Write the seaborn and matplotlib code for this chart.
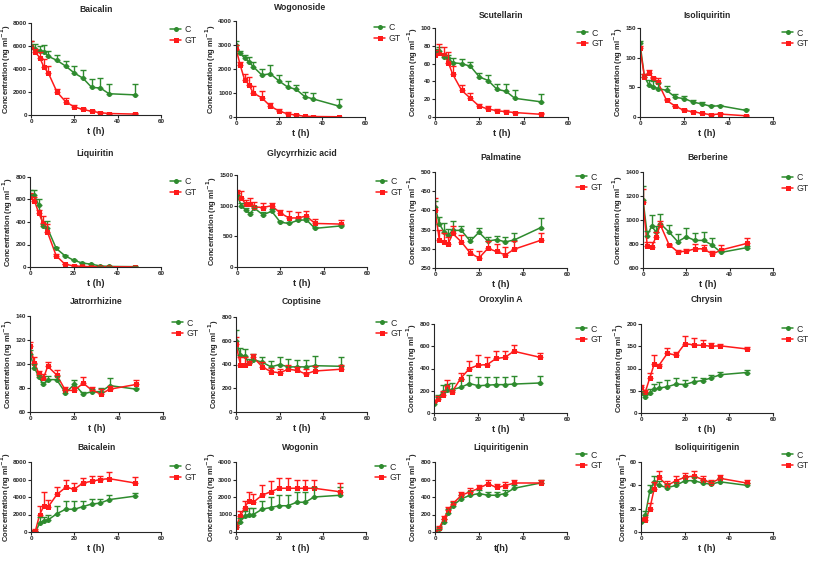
import numpy as np
import pandas as pd
import seaborn as sns
import matplotlib.pyplot as plt

t = [0, 2, 4, 6, 8, 12, 16, 20, 24, 28, 32, 36, 48]

names = ["Baicalin", "Wogonoside", "Scutellarin", "Isoliquiritin",
         "Liquiritin", "Glycyrrhizic acid", "Palmatine", "Berberine",
         "Jatrorrhizine", "Coptisine", "Oroxylin A", "Chrysin",
         "Baicalein", "Wogonin", "Liquiritigenin", "Isoliquiritigenin"]

# y-axis ranges (min, max, step)
yranges = [(0, 8000, 2000), (0, 4000, 1000), (0, 100, 20), (0, 150, 50),
           (0, 800, 200), (0, 1500, 500), (250, 500, 50), (600, 1400, 200),
           (60, 140, 20), (0, 800, 200), (0, 800, 200), (0, 200, 50),
           (0, 8000, 2000), (0, 4000, 1000), (0, 800, 200), (0, 60, 20)]

baicalin_c = [6000, 5700, 5600, 5500, 5100, 4750, 4250, 3650, 3200, 2400, 2350, 1850, 1750]
baicalin_c_err = [400, 500, 400, 600, 500, 450, 450, 650, 750, 700, 850, 850, 950]
baicalin_gt = [5950, 5450, 5000, 4150, 3650, 2000, 1150, 700, 480, 320, 200, 130, 80]
baicalin_gt_err = [450, 250, 500, 750, 650, 300, 350, 150, 170, 80, 50, 50, 70]

wogonoside_c = [3000, 2650, 2450, 2300, 2100, 1750, 1800, 1500, 1250, 1150, 850, 750, 450]
wogonoside_c_err = [150, 100, 150, 200, 200, 250, 350, 250, 250, 200, 200, 250, 300]
wogonoside_gt = [2850, 2150, 1550, 1350, 1000, 800, 450, 250, 130, 80, 30, 20, 10]
wogonoside_gt_err = [150, 150, 250, 300, 300, 300, 150, 100, 70, 40, 20, 10, 10]

scutellarin_c = [73, 74, 67, 66, 61, 60, 57, 45, 41, 31, 29, 21, 17]
scutellarin_c_err = [3, 5, 3, 4, 5, 5, 5, 5, 6, 6, 8, 9, 9]
scutellarin_gt = [70, 72, 70, 61, 48, 30, 21, 12, 9, 7, 6, 5, 3]
scutellarin_gt_err = [5, 10, 9, 12, 9, 6, 6, 3, 3, 2, 2, 1, 1]

isoliquiritin_c = [124, 68, 54, 51, 48, 45, 33, 31, 25, 22, 18, 19, 11]
isoliquiritin_c_err = [4, 5, 9, 9, 9, 7, 5, 4, 3, 3, 2, 2, 2]
isoliquiritin_gt = [116, 68, 74, 66, 59, 28, 18, 11, 9, 6, 4, 5, 2]
isoliquiritin_gt_err = [4, 4, 5, 2, 6, 3, 1, 2, 1, 1, 1, 1, 1]

liquiritin_c = [640, 640, 550, 360, 345, 165, 100, 60, 35, 25, 10, 5, 3]
liquiritin_c_err = [40, 40, 50, 20, 65, 10, 10, 5, 5, 5, 3, 2, 2]
liquiritin_gt = [620, 590, 480, 390, 310, 100, 25, 10, 5, 3, 2, 2, 1]
liquiritin_gt_err = [40, 30, 30, 60, 70, 20, 5, 5, 3, 2, 1, 1, 1]

glycyrrhizic_c = [1170, 1000, 930, 870, 960, 850, 910, 730, 710, 760, 770, 630, 670]
glycyrrhizic_c_err = [40, 40, 40, 30, 40, 40, 40, 20, 20, 30, 30, 20, 20]
glycyrrhizic_gt = [1210, 1130, 1020, 1020, 980, 970, 1000, 880, 800, 800, 830, 710, 700]
glycyrrhizic_gt_err = [50, 110, 80, 110, 80, 70, 50, 50, 120, 100, 90, 80, 70]

palmatine_c = [410, 365, 345, 335, 348, 348, 320, 343, 320, 324, 318, 323, 355]
palmatine_c_err = [15, 18, 23, 17, 24, 12, 12, 12, 10, 10, 12, 19, 25]
palmatine_gt = [402, 322, 317, 312, 340, 318, 289, 276, 301, 293, 284, 299, 322]
palmatine_gt_err = [30, 28, 25, 18, 20, 17, 11, 17, 19, 19, 20, 22, 18]

berberine_c = [1170, 870, 950, 900, 970, 900, 820, 860, 830, 830, 790, 730, 770]
berberine_c_err = [110, 40, 90, 50, 80, 60, 60, 70, 60, 70, 60, 10, 10]
berberine_gt = [1150, 780, 775, 860, 960, 795, 735, 740, 760, 760, 715, 750, 805]
berberine_gt_err = [110, 40, 45, 40, 30, 5, 15, 15, 40, 30, 25, 40, 45]

jatrorrhizine_c = [108, 97, 89, 83, 87, 87, 76, 83, 75, 77, 77, 82, 79]
jatrorrhizine_c_err = [4, 3, 2, 2, 3, 3, 2, 4, 2, 2, 3, 6, 1]
jatrorrhizine_gt = [115, 101, 92, 88, 98, 91, 78, 78, 84, 78, 75, 79, 83]
jatrorrhizine_gt_err = [3, 5, 2, 4, 4, 4, 3, 3, 5, 3, 4, 3, 4]

coptisine_c = [600, 480, 470, 410, 440, 420, 380, 400, 380, 380, 380, 390, 385]
coptisine_c_err = [90, 60, 60, 40, 50, 40, 50, 60, 65, 60, 60, 80, 75]
coptisine_gt = [570, 400, 400, 410, 460, 380, 340, 330, 360, 350, 320, 345, 360]
coptisine_gt_err = [60, 60, 60, 20, 30, 40, 30, 30, 40, 30, 40, 45, 40]

oroxylin_c = [80, 140, 190, 210, 210, 230, 265, 245, 250, 255, 255, 260, 270]
oroxylin_c_err = [20, 20, 60, 50, 60, 80, 75, 75, 75, 70, 70, 70, 65]
oroxylin_gt = [100, 130, 160, 245, 185, 310, 400, 430, 435, 490, 500, 555, 500]
oroxylin_gt_err = [10, 20, 40, 55, 25, 50, 70, 90, 65, 70, 60, 55, 40]

chrysin_c = [44, 37, 45, 53, 56, 59, 65, 64, 70, 73, 79, 86, 91]
chrysin_c_err = [6, 4, 10, 12, 14, 15, 13, 10, 10, 5, 6, 7, 5]
chrysin_gt = [58, 48, 79, 110, 106, 134, 130, 156, 153, 152, 150, 151, 144]
chrysin_gt_err = [5, 4, 11, 20, 4, 11, 7, 16, 15, 11, 7, 3, 4]

baicalein_c = [0, 0, 1000, 1300, 1400, 2100, 2600, 2600, 2900, 3200, 3300, 3700, 4100]
baicalein_c_err = [0, 100, 700, 400, 500, 900, 900, 1000, 600, 600, 500, 500, 400]
baicalein_gt = [0, 100, 2000, 3000, 2900, 4300, 5100, 4900, 5600, 5800, 6000, 6100, 5600]
baicalein_gt_err = [0, 300, 1000, 1600, 800, 900, 800, 700, 600, 600, 400, 800, 700]

wogonin_c = [300, 600, 900, 1000, 1000, 1300, 1400, 1500, 1500, 1700, 1700, 2000, 2100]
wogonin_c_err = [100, 200, 300, 400, 400, 500, 600, 600, 600, 600, 600, 600, 500]
wogonin_gt = [300, 900, 1400, 1800, 1700, 2100, 2300, 2500, 2500, 2500, 2500, 2500, 2300]
wogonin_gt_err = [100, 300, 400, 500, 500, 600, 600, 600, 600, 500, 500, 500, 500]

liquiritigenin_c = [0, 40, 120, 220, 300, 380, 420, 440, 420, 420, 440, 500, 560]
liquiritigenin_c_err = [5, 20, 30, 40, 40, 40, 50, 40, 40, 40, 40, 40, 30]
liquiritigenin_gt = [0, 50, 150, 250, 320, 420, 460, 500, 550, 510, 530, 560, 560]
liquiritigenin_gt_err = [5, 20, 30, 40, 40, 40, 40, 40, 40, 40, 40, 30, 30]

isoliquiritigenin_c = [9, 15, 35, 43, 40, 38, 40, 44, 44, 42, 41, 43, 40]
isoliquiritigenin_c_err = [1, 3, 5, 5, 4, 3, 3, 3, 3, 3, 3, 3, 2]
isoliquiritigenin_gt = [10, 10, 20, 37, 47, 40, 44, 47, 48, 45, 42, 46, 42]
isoliquiritigenin_gt_err = [1, 3, 5, 6, 5, 4, 4, 4, 4, 3, 3, 3, 3]

series_c = [baicalin_c, wogonoside_c, scutellarin_c, isoliquiritin_c,
            liquiritin_c, glycyrrhizic_c, palmatine_c, berberine_c,
            jatrorrhizine_c, coptisine_c, oroxylin_c, chrysin_c,
            baicalein_c, wogonin_c, liquiritigenin_c, isoliquiritigenin_c]
series_c_err = [baicalin_c_err, wogonoside_c_err, scutellarin_c_err, isoliquiritin_c_err,
                liquiritin_c_err, glycyrrhizic_c_err, palmatine_c_err, berberine_c_err,
                jatrorrhizine_c_err, coptisine_c_err, oroxylin_c_err, chrysin_c_err,
                baicalein_c_err, wogonin_c_err, liquiritigenin_c_err, isoliquiritigenin_c_err]
series_gt = [baicalin_gt, wogonoside_gt, scutellarin_gt, isoliquiritin_gt,
             liquiritin_gt, glycyrrhizic_gt, palmatine_gt, berberine_gt,
             jatrorrhizine_gt, coptisine_gt, oroxylin_gt, chrysin_gt,
             baicalein_gt, wogonin_gt, liquiritigenin_gt, isoliquiritigenin_gt]
series_gt_err = [baicalin_gt_err, wogonoside_gt_err, scutellarin_gt_err, isoliquiritin_gt_err,
                 liquiritin_gt_err, glycyrrhizic_gt_err, palmatine_gt_err, berberine_gt_err,
                 jatrorrhizine_gt_err, coptisine_gt_err, oroxylin_gt_err, chrysin_gt_err,
                 baicalein_gt_err, wogonin_gt_err, liquiritigenin_gt_err, isoliquiritigenin_gt_err]

sns.set_style("ticks")
plt.rcParams["font.family"] = ["Liberation Sans", "DejaVu Sans"]
plt.rcParams["mathtext.default"] = "bf"

green = "#2E8B2E"
red = "#FF1A1A"

W, H = 813, 586
fig = plt.figure(figsize=(W / 100, H / 100), dpi=100)

# panel boxes in pixels: x at t=0, x at t=60, top, bottom, title y, legend first-row y
boxes = [(31, 161, 23, 115, 10, 30), (236, 365, 21, 117, 7, 28),
         (435, 568, 28, 117, 15, 33), (640, 773, 28, 117, 15, 33),
         (30, 161, 177, 267, 153, 182), (237, 367, 175, 267, 153, 182),
         (435, 567, 172, 268, 157, 177), (643, 773, 172, 268, 157, 178),
         (30, 163, 316, 412, 302, 323), (236, 367, 317, 412, 302, 323),
         (434, 567, 324, 413, 300, 329), (641, 773, 324, 413, 300, 329),
         (31, 161, 462, 532, 447, 467), (236, 366, 462, 532, 447, 467),
         (435, 567, 462, 532, 447, 455), (641, 773, 462, 532, 447, 455)]

for i, name in enumerate(names):
    x0, x1, top, bot, ty, ly = boxes[i]
    ax = fig.add_axes([x0 / W, 1 - bot / H, (x1 - x0) / W, (bot - top) / H])
    df = pd.DataFrame({
        "t": t * 2,
        "conc": list(series_c[i]) + list(series_gt[i]),
        "group": ["C"] * len(t) + ["GT"] * len(t),
    })
    sns.lineplot(data=df, x="t", y="conc", hue="group", style="group",
                 palette={"C": green, "GT": red},
                 markers={"C": "o", "GT": "s"}, dashes=False,
                 markersize=3.6, markeredgewidth=0, linewidth=1.1, ax=ax)
    ax.errorbar(t, series_c[i], yerr=[np.zeros(len(t)), series_c_err[i]],
                fmt="none", ecolor=green, elinewidth=1, capsize=2, capthick=1)
    ax.errorbar(t, series_gt[i], yerr=[np.zeros(len(t)), series_gt_err[i]],
                fmt="none", ecolor=red, elinewidth=1, capsize=2, capthick=1)
    lo, hi, step = yranges[i]
    ax.set_ylim(lo, hi)
    ax.set_yticks(np.arange(lo, hi + step / 2, step))
    ax.set_xlim(0, 60)
    ax.set_xticks([0, 20, 40, 60])
    fig.text((x0 + x1) / 2 / W, 1 - ty / H, name, ha="center", va="center",
             fontsize=6.2, fontweight="bold")
    ax.set_xlabel("t(h)" if name == "Liquiritigenin" else "t (h)",
                  fontsize=6.5, fontweight="bold", labelpad=2.5)
    ax.set_ylabel("Concentration (ng ml$^{-1}$)", fontsize=5.5,
                  fontweight="bold", labelpad=0.3)
    ax.tick_params(labelsize=4.5, length=2, width=0.8, pad=0.8)
    for lab in ax.get_xticklabels() + ax.get_yticklabels():
        lab.set_fontweight("bold")
    sns.despine(ax=ax)
    for s in ["left", "bottom"]:
        ax.spines[s].set_linewidth(0.8)
    ax.legend(title=None, frameon=False, fontsize=6.3, loc="upper left",
              bbox_to_anchor=((x1 + 9) / W, 1 - (ly - 4.5) / H),
              bbox_transform=fig.transFigure, handlelength=1.3,
              handletextpad=0.35, labelspacing=0.2, borderpad=0,
              borderaxespad=0)

fig.savefig("out.png", dpi=100)
